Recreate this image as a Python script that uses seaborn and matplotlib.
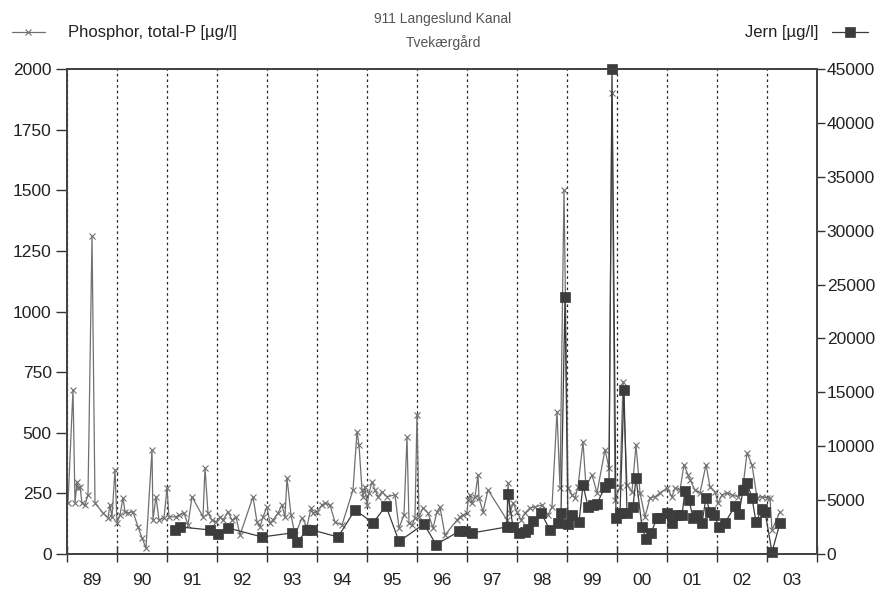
import numpy as np
import pandas as pd
import matplotlib
matplotlib.use("Agg")
import matplotlib.pyplot as plt
import seaborn as sns

# Total phosphorus samples (decimal year, µg/l)
p_year = [
    1989.02, 1989.12, 1989.16, 1989.20, 1989.22, 1989.26, 1989.30, 1989.36, 1989.42, 1989.50,
    1989.56, 1989.72, 1989.82, 1989.86, 1989.90, 1989.96, 1990.00, 1990.06, 1990.12, 1990.16,
    1990.22, 1990.32, 1990.42, 1990.50, 1990.58, 1990.70, 1990.72, 1990.78, 1990.84, 1990.94,
    1991.00, 1991.04, 1991.18, 1991.24, 1991.34, 1991.42, 1991.50, 1991.72, 1991.76, 1991.82,
    1991.90, 1991.98, 1992.06, 1992.12, 1992.22, 1992.30, 1992.38, 1992.46, 1992.72, 1992.80,
    1992.86, 1992.92, 1993.00, 1993.06, 1993.12, 1993.22, 1993.30, 1993.36, 1993.40, 1993.48,
    1993.56, 1993.70, 1993.80, 1993.88, 1993.92, 1994.00, 1994.10, 1994.16, 1994.26, 1994.36,
    1994.50, 1994.72, 1994.80, 1994.84, 1994.90, 1994.92, 1994.96, 1995.00, 1995.04, 1995.10,
    1995.16, 1995.22, 1995.30, 1995.40, 1995.56, 1995.64, 1995.74, 1995.80, 1995.84, 1995.90,
    1995.96, 1996.00, 1996.04, 1996.12, 1996.22, 1996.32, 1996.40, 1996.46, 1996.56, 1996.80,
    1996.86, 1996.92, 1997.00, 1997.02, 1997.06, 1997.10, 1997.16, 1997.22, 1997.24, 1997.32,
    1997.42, 1997.80, 1997.82, 1997.86, 1997.92, 1998.00, 1998.08, 1998.16, 1998.26, 1998.36,
    1998.50, 1998.62, 1998.70, 1998.80, 1998.86, 1998.94, 1999.02, 1999.10, 1999.16, 1999.22,
    1999.32, 1999.38, 1999.50, 1999.60, 1999.76, 1999.84, 1999.90, 1999.96, 2000.06, 2000.12,
    2000.20, 2000.30, 2000.38, 2000.46, 2000.56, 2000.66, 2000.76, 2000.86, 2001.00, 2001.10,
    2001.16, 2001.26, 2001.34, 2001.42, 2001.46, 2001.56, 2001.66, 2001.78, 2001.86, 2001.96,
    2002.02, 2002.10, 2002.20, 2002.30, 2002.42, 2002.52, 2002.60, 2002.70, 2002.80, 2002.90,
    2003.00, 2003.06, 2003.10, 2003.26,
]
p_value = [
    210, 678, 210, 298, 272, 277, 210, 202, 244, 1310,
    210, 169, 149, 202, 153, 347, 128, 161, 231, 174,
    169, 174, 112, 66, 25, 430, 140, 236, 140, 149,
    272, 153, 153, 161, 169, 120, 236, 153, 355, 169,
    140, 132, 153, 140, 174, 140, 153, 78, 236, 132,
    112, 153, 194, 128, 140, 169, 202, 153, 314, 161,
    78, 149, 112, 190, 169, 174, 202, 210, 202, 132,
    120, 264, 504, 450, 264, 236, 277, 202, 252, 298,
    264, 236, 256, 236, 244, 107, 161, 483, 128, 120,
    149, 574, 153, 190, 169, 107, 174, 194, 78, 140,
    153, 161, 169, 223, 244, 210, 236, 326, 231, 174,
    264, 140, 293, 169, 210, 174, 140, 169, 190, 194,
    202, 161, 194, 587, 272, 1500, 272, 244, 231, 277,
    463, 277, 326, 252, 430, 355, 1900, 223, 277, 711,
    285, 256, 450, 252, 153, 231, 236, 252, 272, 236,
    272, 264, 368, 326, 306, 264, 252, 368, 277, 256,
    210, 244, 252, 244, 236, 277, 417, 368, 231, 236,
    231, 231, 99, 174,
]

# Iron samples (decimal year, µg/l)
fe_year = [
    1991.16, 1991.26, 1991.86, 1992.02, 1992.22, 1992.90, 1993.50, 1993.60, 1993.80, 1993.90,
    1994.42, 1994.76, 1995.12, 1995.38, 1995.64, 1996.14, 1996.38, 1996.84, 1996.96, 1997.10,
    1997.80, 1997.82, 1997.92, 1998.04, 1998.16, 1998.22, 1998.32, 1998.48, 1998.66, 1998.82,
    1998.88, 1998.96, 1999.02, 1999.10, 1999.24, 1999.32, 1999.42, 1999.52, 1999.60, 1999.76,
    1999.84, 1999.90, 1999.98, 2000.06, 2000.14, 2000.20, 2000.32, 2000.38, 2000.50, 2000.58,
    2000.68, 2000.80, 2000.86, 2001.00, 2001.10, 2001.20, 2001.30, 2001.36, 2001.44, 2001.52,
    2001.60, 2001.70, 2001.78, 2001.86, 2001.94, 2002.04, 2002.16, 2002.36, 2002.44, 2002.52,
    2002.60, 2002.70, 2002.78, 2002.90, 2002.96, 2003.10, 2003.26,
]
fe_value = [
    2232, 2511, 2232, 1860, 2418, 1581, 1953, 1070, 2232, 2232,
    1581, 4092, 2883, 4464, 1160, 2790, 880, 2100, 2139, 1953,
    2511, 5580, 2511, 1953, 2046, 2325, 3100, 3813, 2232, 2883,
    3813, 23800, 2790, 3627, 2976, 6417, 4371, 4557, 4650, 6231,
    6603, 45000, 3348, 3813, 15252, 3813, 4371, 7068, 2511, 1395,
    1953, 3348, 3348, 3813, 2883, 3627, 3627, 5859, 5022, 3348,
    3627, 2883, 5208, 3906, 3627, 2511, 2883, 4464, 3720, 5952,
    6603, 5208, 2976, 4185, 3906, 186, 2883,
]

year_labels = ["89", "90", "91", "92", "93", "94", "95", "96", "97", "98",
               "99", "00", "01", "02", "03"]

p_df = pd.DataFrame({"year": p_year, "value": p_value})
fe_df = pd.DataFrame({"year": fe_year, "value": fe_value})

sns.set_style("white")
plt.rcParams["font.family"] = ["Liberation Sans", "DejaVu Sans"]

W, H = 880, 592
fig = plt.figure(figsize=(W / 100, H / 100), dpi=100)
ax = fig.add_axes([67 / W, 1 - 554 / H, (817 - 67) / W, (554 - 69) / H])
ax2 = ax.twinx()

p_color = "#707070"
fe_color = "#3c3c3c"

sns.lineplot(data=p_df, x="year", y="value", ax=ax, color=p_color, linewidth=0.9,
             marker="x", markersize=5, markeredgecolor=p_color,
             markeredgewidth=0.8, legend=False, estimator=None, sort=True)
sns.lineplot(data=fe_df, x="year", y="value", ax=ax2, color=fe_color, linewidth=0.9,
             marker="s", markersize=6.5, markeredgecolor=fe_color,
             markerfacecolor=fe_color, markeredgewidth=0.5,
             legend=False, estimator=None, sort=True)
for ln in ax2.get_lines():
    ln.set_clip_on(False)

# Axes ranges
ax.set_xlim(1989, 2004)
ax.set_ylim(0, 2000)
ax2.set_ylim(0, 45000)
ax.set_xlabel("")
ax.set_ylabel("")
ax2.set_ylabel("")

# Year boundaries as dotted gridlines, labels centred in each year
ax.set_xticks(np.arange(1989, 2005))
ax.set_xticklabels([])
ax.set_xticks(np.arange(1989.5, 2004, 1.0), minor=True)
ax.set_xticklabels(year_labels, minor=True)
ax.tick_params(axis="x", which="major", direction="inout", length=12, width=1.0,
               color="#333333", bottom=True)
ax.tick_params(axis="x", which="minor", length=0, pad=14, labelsize=12.5,
               labelcolor="#222222")
ax.xaxis.grid(True, which="major", linestyle=(0, (2, 2.5)), color="#222222",
              linewidth=0.9)
ax.yaxis.grid(False)
ax2.grid(False)

ax.set_yticks(np.arange(0, 2001, 250))
ax.tick_params(axis="y", which="major", direction="out", length=8, width=1.0,
               color="#333333", left=True, labelsize=12.5, labelcolor="#222222", pad=3)
ax2.set_yticks(np.arange(0, 45001, 5000))
ax2.tick_params(axis="y", which="major", direction="out", length=6, width=1.0,
                color="#333333", right=True, labelsize=12.5, labelcolor="#222222", pad=1)

for a in (ax, ax2):
    for s in a.spines.values():
        s.set_visible(True)
        s.set_color("#444444")
        s.set_linewidth(1.4)

# Header text
fig.text(443 / W, 1 - 19 / H, "911 Langeslund Kanal", ha="center", va="center",
         fontsize=10, color="#555555")
fig.text(443 / W, 1 - 43 / H, "Tvekærgård", ha="center", va="center",
         fontsize=10, color="#555555")

p_line = ax.get_lines()[0]
fe_line = ax2.get_lines()[0]
fig.legend([p_line], ["Phosphor, total-P [µg/l]"], loc="center left",
           bbox_to_anchor=(0.0, 1 - 33 / H), frameon=False, fontsize=12,
           handlelength=2.0, handletextpad=1.4, borderaxespad=0.3,
           labelcolor="#222222")
fig.legend([fe_line], ["Jern [µg/l]"], loc="center right",
           bbox_to_anchor=(1.0, 1 - 33 / H), frameon=False, fontsize=12,
           handlelength=2.2, handletextpad=0.8, borderaxespad=0.3,
           markerfirst=False, labelcolor="#222222")

fig.savefig("out.png", dpi=100)
